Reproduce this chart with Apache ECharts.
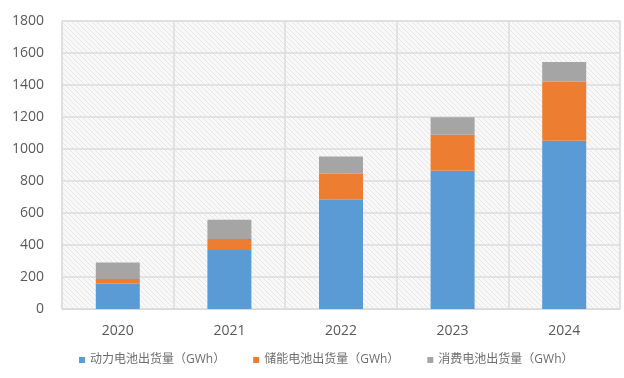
<!DOCTYPE html>
<html>
<head>
<meta charset="utf-8">
<script src="https://cdn.jsdelivr.net/npm/echarts@6/dist/echarts.min.js"></script>
<style>
  html, body { margin: 0; padding: 0; background: #fff; }
  #chart { width: 624px; height: 378px; }
</style>
</head>
<body>
<div id="chart"></div>
<script>
const years = ['2020', '2021', '2022', '2023', '2024'];
const powerData = [160, 369, 683, 864, 1052];
const storageData = [27, 68, 162, 225, 368];
const consumerData = [104, 121, 108, 110, 124];
const seriesNames = ['动力电池出货量（GWh）', '储能电池出货量（GWh）', '消费电池出货量（GWh）'];

// diagonal hatch for plot background
const hatch = document.createElement('canvas');
hatch.width = 5;
hatch.height = 5;
const hc = hatch.getContext('2d');
hc.fillStyle = '#f8f8f8';
hc.fillRect(0, 0, 5, 5);
hc.strokeStyle = '#e6e6e6';
hc.lineWidth = 1;
hc.beginPath();
hc.moveTo(0, 0); hc.lineTo(5, 5);
hc.moveTo(-3, 2); hc.lineTo(3, 8);
hc.moveTo(2, -3); hc.lineTo(8, 3);
hc.stroke();

const font = '"Open Sans", "Noto Sans CJK SC", sans-serif';
const chart = echarts.init(document.getElementById('chart'));
chart.setOption({
  animation: false,
  textStyle: { fontFamily: font },
  grid: {
    left: 62, right: 4, top: 21, bottom: 69,
    show: true,
    borderColor: '#dcdcdc',
    borderWidth: 1,
    backgroundColor: { image: hatch, repeat: 'repeat' }
  },
  legend: {
    bottom: 7,
    left: 74,
    itemWidth: 6,
    itemHeight: 6,
    itemGap: 28,
    icon: 'rect',
    textStyle: { color: '#6e6e6e', fontSize: 12, fontFamily: font },
    data: seriesNames
  },
  xAxis: {
    type: 'category',
    data: years,
    axisLine: { show: true, lineStyle: { color: '#d9d9d9' } },
    axisTick: { show: false },
    axisLabel: { color: '#595959', fontSize: 14, margin: 15 },
    splitLine: { show: true, lineStyle: { color: '#dcdcdc', width: 1.5 } }
  },
  yAxis: {
    type: 'value',
    min: 0,
    max: 1800,
    interval: 200,
    axisLine: { show: false },
    axisTick: { show: false },
    axisLabel: { color: '#595959', fontSize: 14, margin: 18, formatter: v => String(v) },
    splitLine: { lineStyle: { color: '#dcdcdc', width: 1.5 } }
  },
  series: [
    { name: seriesNames[0], type: 'bar', stack: 'total', barWidth: 44, itemStyle: { color: '#5b9bd5' }, data: powerData },
    { name: seriesNames[1], type: 'bar', stack: 'total', barWidth: 44, itemStyle: { color: '#ed7d31' }, data: storageData },
    { name: seriesNames[2], type: 'bar', stack: 'total', barWidth: 44, itemStyle: { color: '#a5a5a5' }, data: consumerData }
  ]
});
</script>
</body>
</html>
